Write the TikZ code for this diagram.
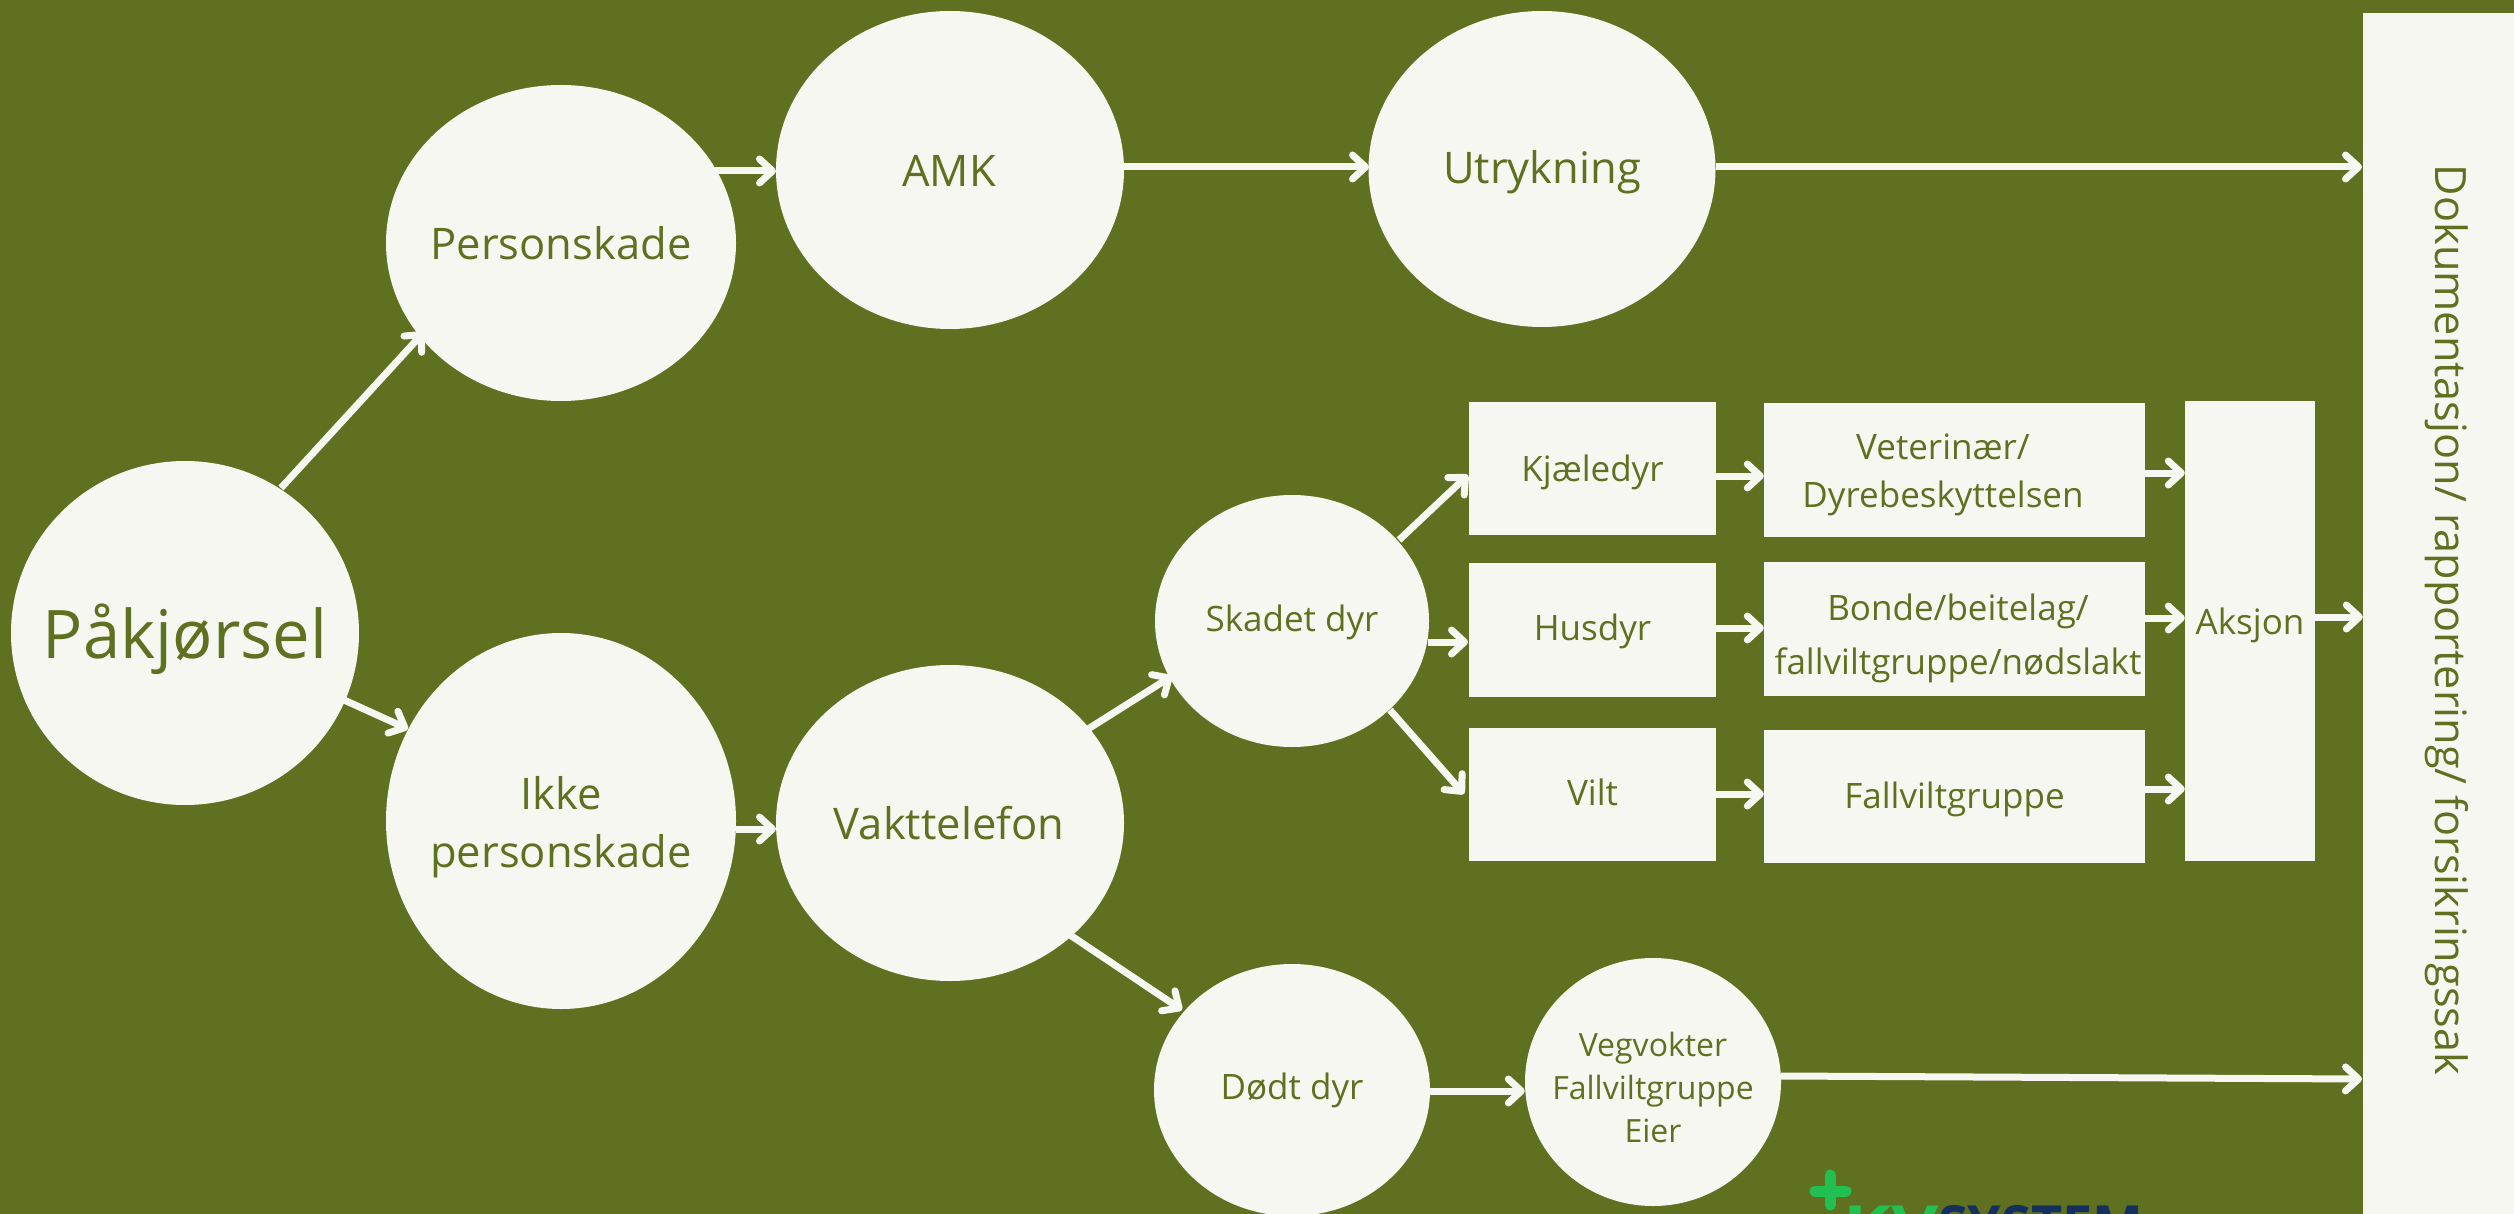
\documentclass[tikz,border=0pt]{standalone}
\usepackage{fontspec}
\setmainfont{Open Sans}
\usetikzlibrary{arrows.meta,shapes.geometric}
\definecolor{bg}{HTML}{5F7020}
\definecolor{cream}{HTML}{F7F7F2}
\definecolor{logog}{HTML}{22C050}
\definecolor{logob}{HTML}{14305F}
\tikzset{
  x=1pt,y=-1pt,
  blob/.style={ellipse,fill=cream,draw=none,text=bg,inner sep=0pt,align=center},
  card/.style={rectangle,fill=cream,draw=none,text=bg,inner sep=0pt,align=center},
  flow/.style={draw=cream,line width=7pt,-{Straight Barb[length=13pt,width=24pt,line width=7pt,round]}},
  txtA/.style={font=\fontsize{67pt}{80pt}\selectfont},
  txtB/.style={font=\fontsize{43.5pt}{58pt}\selectfont},
  txtC/.style={font=\fontsize{35pt}{48pt}\selectfont},
  txtD/.style={font=\fontsize{32pt}{43pt}\selectfont},
  lbl/.style={text=bg,inner sep=0pt,align=center},
}
\begin{document}
\begin{tikzpicture}
\path[use as bounding box,fill=bg] (0,0) rectangle (2514,1214);
\node[blob,minimum width=348pt,minimum height=344pt] (paa) at (185,633) {};
\node[blob,minimum width=350pt,minimum height=316pt] (pers) at (561,243) {};
\node[blob,minimum width=350pt,minimum height=376pt] (ikke) at (561,821) {};
\node[blob,minimum width=348pt,minimum height=318pt] (amk) at (950,170) {};
\node[blob,minimum width=348pt,minimum height=316pt] (vakt) at (950,823) {};
\node[blob,minimum width=347pt,minimum height=316pt] (utr) at (1542,169) {};
\node[blob,minimum width=274pt,minimum height=252pt] (skadet) at (1292,621) {};
\node[blob,minimum width=276pt,minimum height=252pt] (dodt) at (1292,1090) {};
\node[blob,minimum width=256pt,minimum height=248pt] (veg) at (1653,1082) {};
\node[card,minimum width=247pt,minimum height=133pt] (kj) at (1592.5,468.5) {};
\node[card,minimum width=247pt,minimum height=134pt] (hus) at (1592.5,630) {};
\node[card,minimum width=247pt,minimum height=133pt] (vilt) at (1592.5,794.5) {};
\node[card,minimum width=381pt,minimum height=134pt] (vet) at (1954.5,470) {};
\node[card,minimum width=381pt,minimum height=134pt] (bon) at (1954.5,629) {};
\node[card,minimum width=381pt,minimum height=133pt] (fall) at (1954.5,796.5) {};
\node[card,minimum width=130pt,minimum height=460pt] (aks) at (2250,631) {};
\node[card,minimum width=151pt,minimum height=1201pt] (dok) at (2438.5,613.5) {};
% labels
\node[lbl,txtA] (tpaa) at (185,639) {Påkjørsel};
\node[lbl,txtB] (tpers) at (561,243) {Personskade};
\node[lbl,txtB] (tikke) at (561,827) {Ikke\\personskade};
\node[lbl,txtB] (tamk) at (949,171) {AMK};
\node[lbl,txtB] (tvakt) at (949,823) {Vakttelefon};
\node[lbl,txtB] (tutr) at (1542,172) {Utrykning};
\node[lbl,txtC] (tskadet) at (1292,622) {Skadet dyr};
\node[lbl,txtC] (tdodt) at (1292,1090) {Dødt dyr};
\node[lbl,txtD] (tveg) at (1653,1087) {Vegvokter\\Fallviltgruppe\\Eier};
\node[lbl,txtC] (tkj) at (1592.5,472) {Kjæledyr};
\node[lbl,txtC] (thus) at (1592.5,631) {Husdyr};
\node[lbl,txtC] (tvilt) at (1592.5,792) {Vilt};
\node[lbl,txtC] (tvet) at (1943,475) {Veterinær/\\Dyrebeskyttelsen};
\node[lbl,txtC,font=\fontsize{35pt}{54pt}\selectfont] (tbon) at (1958,638) {Bonde/beitelag/\\fallviltgruppe/nødslakt};
\node[lbl,txtC] (tfall) at (1954.5,799) {Fallviltgruppe};
\node[lbl,txtC] (taks) at (2250,625) {Aksjon};
\node[lbl,rotate=-90,font=\fontsize{43.2pt}{58pt}\selectfont] (tdok) at (2447,620) {Dokumentasjon/ rapportering/ forsikringssak};
% logo (cut off by the lower edge)
\begin{scope}
\clip (0,0) rectangle (2514,1214);
\draw[logog,line width=11pt,line cap=round] (1830,1175) -- (1830,1205);
\draw[logog,line width=11pt,line cap=round] (1815,1191) -- (1846,1191);
\node[anchor=base west,inner sep=0pt,text=logog,font=\fontsize{54pt}{54pt}\selectfont\bfseries,xscale=1.35] (kv) at (1843,1244) {KV};
\node[anchor=base west,inner sep=0pt,text=logob,font=\fontsize{54pt}{54pt}\selectfont\bfseries] (sys) at (1938,1244) {SYSTEM};
\end{scope}
% connectors
\coordinate (a1s) at (281,488); \coordinate (a1e) at (424,332);
\draw[flow] (a1s) -- (a1e);
\coordinate (a2s) at (344,700); \coordinate (a2e) at (408,729);
\draw[flow] (a2s) -- (a2e);
\coordinate (a3s) at (715,171); \coordinate (a3e) at (776,171);
\draw[flow] (a3s) -- (a3e);
\coordinate (a4s) at (1124,167); \coordinate (a4e) at (1369,167);
\draw[flow] (a4s) -- (a4e);
\coordinate (a5s) at (1716,167); \coordinate (a5e) at (2362,167);
\draw[flow] (a5s) -- (a5e);
\coordinate (a6s) at (736,829); \coordinate (a6e) at (776,829);
\draw[flow] (a6s) -- (a6e);
\coordinate (a7s) at (1088,729); \coordinate (a7e) at (1172,676);
\draw[flow] (a7s) -- (a7e);
\coordinate (a8s) at (1070,935); \coordinate (a8e) at (1182,1010);
\draw[flow] (a8s) -- (a8e);
\coordinate (a9s) at (1399,540); \coordinate (a9e) at (1468,475);
\draw[flow] (a9s) -- (a9e);
\coordinate (a10s) at (1428,642); \coordinate (a10e) at (1468,642);
\draw[flow] (a10s) -- (a10e);
\coordinate (a11s) at (1390,710); \coordinate (a11e) at (1464,794);
\draw[flow] (a11s) -- (a11e);
\draw[flow] (kj.east |- 0,476) -- (vet.west |- 0,476);
\draw[flow] (hus.east |- 0,628) -- (bon.west |- 0,628);
\draw[flow] (vilt.east |- 0,794) -- (fall.west |- 0,794);
\draw[flow] (vet.east |- 0,473) -- (aks.west |- 0,473);
\draw[flow] (bon.east |- 0,618) -- (aks.west |- 0,618);
\draw[flow] (fall.east |- 0,789) -- (aks.west |- 0,789);
\draw[flow] (aks.east |- 0,617) -- (dok.west |- 0,617);
\draw[flow] (dodt.east |- 0,1091) -- (veg.west |- 0,1091);
\coordinate (a12s) at (1781,1076); \coordinate (a12e) at (2362,1079);
\draw[flow] (a12s) -- (a12e);
\end{tikzpicture}
\end{document}
